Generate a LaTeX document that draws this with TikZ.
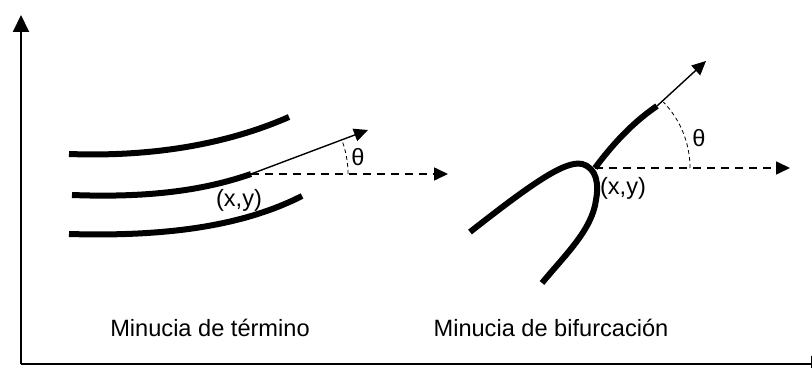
\documentclass[tikz,border=0pt]{standalone}
\usepackage{fontspec}
\setmainfont{Liberation Sans}
\usepackage{tikz}
\usetikzlibrary{arrows.meta}
\tikzset{
  axis/.style={line width=1pt,-{Triangle[length=8.5pt,width=8pt]}},
  ridge/.style={line width=3pt},
  dir/.style={line width=0.7pt,-{Triangle[length=7pt,width=6.5pt]}},
  ref/.style={line width=0.8pt,dash pattern=on 4pt off 3pt,-{Triangle[length=7pt,width=6.5pt]}},
  ang/.style={line width=0.4pt,dash pattern=on 2pt off 1.5pt},
  lbl/.style={font=\fontsize{11.8}{14}\selectfont,inner sep=0pt}
}
\begin{document}
\begin{tikzpicture}[x=0.5pt,y=-0.5pt]
\useasboundingbox(0,0)rectangle(812,368);
%% axes
\coordinate(o)at(21,364);
\coordinate(ytop)at(21,15);
\coordinate(xend)at(828,364);
\draw[axis](o)--(ytop);
\draw[axis](o)--(xend);
%%% termination minutia
\coordinate(p1)at(251,174);
\coordinate(t1)at(368,130);
\coordinate(h1)at(448,174);
\draw[ridge](69,154)..controls(150,157)and(225,145)..(289,117);
\draw[ridge](72,195)..controls(150,198)and(205,190)..(p1);
\draw[ridge](69,234)..controls(170,237)and(245,225)..(302,196);
\draw[dir](p1)--(t1);
\draw[ref](p1)--(h1);
\draw[ang](348,174)arc[start angle=0,end angle=-20.6,radius=97];
\node[lbl](th1)at(358,157){θ};
\node[lbl](xy1)at(239,200){(x,y)};
\node[lbl](cap1)at(210,328){Minucia de término};
%%% bifurcation minutia
\coordinate(p2)at(595,168);
\coordinate(b2)at(657,106);
\coordinate(t2)at(706,61);
\coordinate(h2)at(790,168);
\draw[ridge](470,232)..controls(530,185)and(565,160)..(582,164)
  ..controls(597,168)and(599,185)..(596,200)
  ..controls(592,230)and(565,255)..(542,283);
\draw[ridge](p2)..controls(615,141)and(635,121)..(b2);
\draw[dir](b2)--(t2);
\draw[ref](p2)--(h2);
\draw[ang](690,168)arc[start angle=0,end angle=-44,radius=95];
\node[lbl](th2)at(699,138){θ};
\node[lbl](xy2)at(623,188){(x,y)};
\node[lbl](cap2)at(551,328){Minucia de bifurcación};
\end{tikzpicture}
\end{document}
